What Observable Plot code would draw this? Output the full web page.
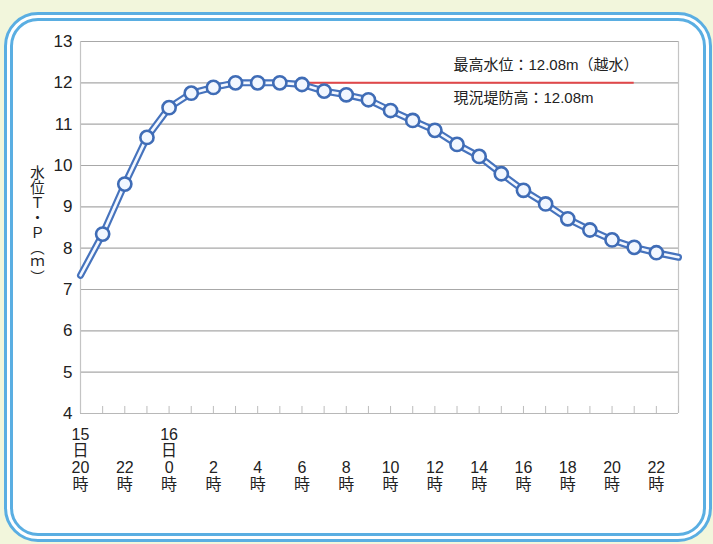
<!DOCTYPE html>
<html>
<head>
<meta charset="utf-8">
<script src="https://cdn.jsdelivr.net/npm/d3@7"></script>
<script src="https://cdn.jsdelivr.net/npm/@observablehq/plot@0.6"></script>
<style>
  html, body { margin: 0; padding: 0; }
  body { width: 713px; height: 544px; background: #f2f6dc; position: relative; overflow: hidden; }
  #box { position: absolute; left: 4px; top: 12px; width: 708px; height: 530px; box-sizing: border-box;
         border: 9px double #5aaee2; border-radius: 34px; background: #ffffff; }
  #chart { position: absolute; left: 0; top: 0; }
</style>
</head>
<body>
<div id="box"></div>
<div id="chart"></div>
<script>
// hours since 15日20時
const hourIndex = [0,1,2,3,4,5,6,7,8,9,10,11,12,13,14,15,16,17,18,19,20,21,22,23,24,25,26,27];
const waterLevel = [7.34,8.34,9.55,10.68,11.40,11.75,11.89,12.00,12.00,12.00,11.96,11.80,11.71,11.59,11.33,11.09,10.85,10.51,10.22,9.80,9.40,9.07,8.71,8.44,8.20,8.02,7.89,7.78];
const markerFrom = 1, markerTo = 26;
const tickPositions = [0,2,4,6,8,10,12,14,16,18,20,22,24,26];
const tickLabels = ["15\n日\n20\n時","22\n時","16\n日\n0\n時","2\n時","4\n時","6\n時","8\n時","10\n時","12\n時","14\n時","16\n時","18\n時","20\n時","22\n時"];
const yTicks = [4,5,6,7,8,9,10,11,12,13];
const yLabel = "水位Ｔ・Ｐ（ｍ）";
const floodLevel = 12.0, floodFrom = 9, floodTo = 25;
const annotations = ["最高水位：12.08m（越水）", "現況堤防高：12.08m"];

const data = hourIndex.map((h, i) => ({h, v: waterLevel[i]}));
const markers = data.filter((d, i) => i >= markerFrom && i <= markerTo);

const font = '"Liberation Sans", "Noto Sans CJK JP", sans-serif';

const chart = Plot.plot({
  width: 713,
  height: 544,
  marginLeft: 80,
  marginRight: 35,
  marginTop: 41,
  marginBottom: 131,
  x: {domain: [0, 27], axis: null},
  y: {domain: [4, 13], axis: null},
  style: {background: "transparent", fontFamily: font, color: "#222", overflow: "visible"},
  marks: [
    Plot.ruleY(yTicks.filter(d => d > 4), {stroke: "#a8a8a8", strokeWidth: 1.2}),
    Plot.ruleY([4], {stroke: "#b8b8b8", strokeWidth: 1}),
    Plot.ruleX([0, 27], {stroke: "#c4c4c4", strokeWidth: 1.2}),
    Plot.ruleX(hourIndex.slice(1), {x: d => d, y1: 4, y2: 4.17, stroke: "#bcbcbc", strokeWidth: 1}),
    Plot.ruleY([floodLevel], {x1: floodFrom, x2: floodTo, stroke: "#e2474a", strokeWidth: 2}),
    Plot.line(data, {x: "h", y: "v", stroke: "#4673bd", strokeWidth: 7, curve: "linear", strokeLinejoin: "round"}),
    Plot.line(data, {x: "h", y: "v", stroke: "#f4f8ff", strokeWidth: 2.6, curve: "linear", strokeLinejoin: "round"}),
    Plot.dot(markers, {x: "h", y: "v", r: 6.6, stroke: "#3f6cb6", strokeWidth: 2.6, fill: "#f2f7ff"}),
    Plot.text(yTicks, {x: 0, y: d => d, text: d => String(d), textAnchor: "end", dx: -8, fontSize: 17, fill: "#222"}),
    Plot.text(tickPositions, {x: d => d, y: 4, text: (d, i) => tickLabels[i], lineAnchor: "bottom", dy: 76, lineHeight: 1.04, fontSize: 16, fill: "#222"}),
    Plot.text([yLabel], {frameAnchor: "left", dx: -43, dy: -7, text: d => d, textAnchor: "middle", lineAnchor: "middle", fontSize: 14.5, fill: "#222", fontFamily: '"Noto Sans CJK JP", sans-serif'}),
    Plot.text([annotations[0]], {frameAnchor: "top-left", dx: 373, dy: 24, text: d => d, textAnchor: "start", lineAnchor: "middle", fontSize: 15, fill: "#222"}),
    Plot.text([annotations[1]], {frameAnchor: "top-left", dx: 373, dy: 57, text: d => d, textAnchor: "start", lineAnchor: "middle", fontSize: 15, fill: "#222"})
  ]
});
d3.select(chart).selectAll("text").filter(function() { return this.textContent === yLabel; })
  .attr("writing-mode", "vertical-rl")
  .style("writing-mode", "vertical-rl")
  .style("text-orientation", "upright")
  .attr("dy", null)
  .style("letter-spacing", "0.5px");
document.getElementById("chart").appendChild(chart);
</script>
</body>
</html>
